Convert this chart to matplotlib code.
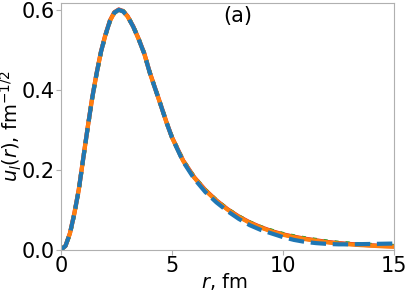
import matplotlib
matplotlib.use("Agg")
import matplotlib.pyplot as plt

r = [0, 0.2, 0.4, 0.6, 0.8, 1.0, 1.2, 1.4, 1.6, 1.8, 2.0, 2.2, 2.4, 2.6, 2.8, 3.0,
     3.25, 3.5, 3.75, 4.0, 4.25, 4.5, 4.75, 5.0, 5.5, 6.0, 6.5, 7.0, 7.5, 8.0, 8.5,
     9.0, 9.5, 10.0, 10.5, 11.0, 11.5, 12.0, 12.5, 13.0, 13.5, 14.0, 14.5, 15.0]

u_orange = [0, 0.009, 0.04, 0.09, 0.15, 0.228, 0.305, 0.378, 0.44, 0.495, 0.537, 0.572, 0.593,
            0.600, 0.596, 0.583, 0.558, 0.526, 0.49, 0.442, 0.401, 0.36, 0.318, 0.28, 0.222,
            0.18, 0.148, 0.122, 0.1, 0.082, 0.067, 0.055, 0.045, 0.037, 0.031, 0.026, 0.022,
            0.018, 0.015, 0.013, 0.011, 0.0095, 0.008, 0.007]

u_red = [0, 0.009, 0.041, 0.091, 0.151, 0.229, 0.306, 0.379, 0.441, 0.496, 0.538, 0.573, 0.594,
         0.601, 0.597, 0.584, 0.559, 0.527, 0.491, 0.443, 0.402, 0.361, 0.319, 0.281, 0.223,
         0.181, 0.149, 0.123, 0.101, 0.083, 0.068, 0.056, 0.046, 0.038, 0.032, 0.027, 0.023,
         0.019, 0.016, 0.014, 0.012, 0.0105, 0.009, 0.008]

u_green = [0, 0.009, 0.039, 0.089, 0.149, 0.227, 0.304, 0.377, 0.439, 0.494, 0.536, 0.571, 0.592,
           0.601, 0.597, 0.584, 0.559, 0.527, 0.491, 0.443, 0.402, 0.361, 0.319, 0.281, 0.223,
           0.181, 0.149, 0.123, 0.101, 0.083, 0.068, 0.056, 0.047, 0.039, 0.033, 0.028, 0.024,
           0.020, 0.017, 0.015, 0.013, 0.0115, 0.010, 0.009]

u_blue = [0, 0.009, 0.04, 0.09, 0.15, 0.228, 0.305, 0.378, 0.44, 0.495, 0.537, 0.572, 0.593,
          0.600, 0.596, 0.583, 0.558, 0.526, 0.49, 0.442, 0.401, 0.36, 0.318, 0.28, 0.22,
          0.177, 0.144, 0.118, 0.096, 0.077, 0.061, 0.049, 0.04, 0.031, 0.024, 0.019, 0.016,
          0.014, 0.013, 0.013, 0.0135, 0.014, 0.0145, 0.015]

xticks = [0, 5, 10, 15]
yticks = [0.0, 0.2, 0.4, 0.6]

fig = plt.figure(figsize=(4.07, 2.96), dpi=100)
ax = fig.add_axes([0.150, 0.157, 0.818, 0.834])

lw = 3
ax.plot(r, u_red, color="C3", ls="-", lw=lw)
ax.plot(r, u_green, color="C2", ls=":", lw=lw)
ax.plot(r, u_orange, color="C1", ls="-", lw=lw)
ax.plot(r, u_blue, color="C0", ls="--", lw=lw)

ax.set_xlim(0, 15)
ax.set_ylim(0, 0.618)
ax.set_xticks(xticks)
ax.set_xticklabels([str(t) for t in xticks])
ax.set_yticks(yticks)
ax.set_yticklabels([f"{t:.1f}" for t in yticks])
ax.tick_params(labelsize=15, color="#b0b0b0", pad=1)
for s in ax.spines.values():
    s.set_color("#b0b0b0")

fl = 14
ax.set_xlabel("$r$, fm", fontsize=fl)
ax.set_ylabel("$u_l(r)$, fm$^{-1/2}$", fontsize=fl)
ax.xaxis.set_label_coords(0.49, -0.085)
ax.yaxis.set_label_coords(-0.112, 0.5)
ax.text(0.53, 0.945, "(a)", transform=ax.transAxes, fontsize=15, ha="center", va="center")

fig.savefig("out.png", dpi=100)
